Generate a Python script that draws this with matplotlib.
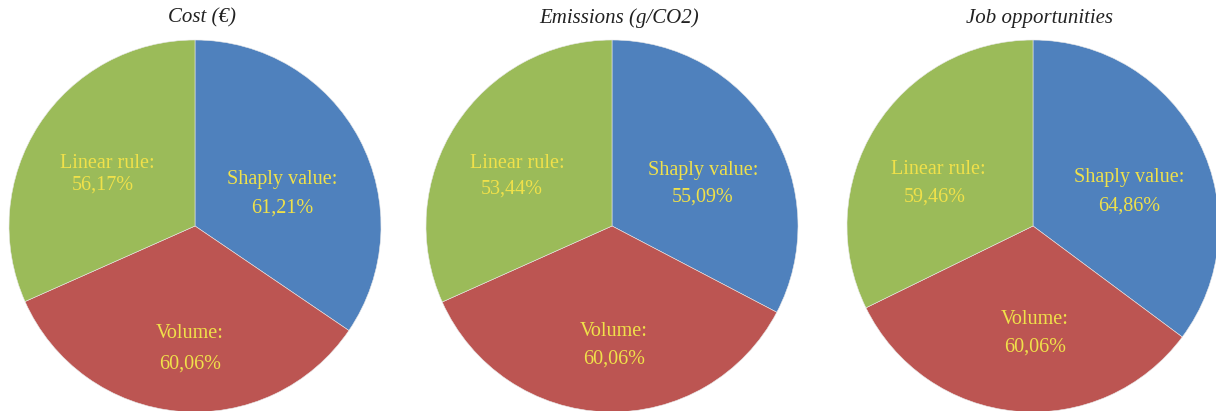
import matplotlib
matplotlib.use("Agg")
import matplotlib.pyplot as plt

W, H = 1216, 411
DPI = 100

titles = ["Cost (€)", "Emissions (g/CO2)", "Job opportunities"]
methods = ["Shaply value", "Volume", "Linear rule"]
shapley = [61.21, 55.09, 64.86]
volume = [60.06, 60.06, 60.06]
linear = [56.17, 53.44, 59.46]

colors = ["#4F81BD", "#BC5552", "#9BBB59"]
label_color = "#F0E14A"

# layout: pie centres in pixels, radius in pixels
centers = [(195, 226), (612, 226), (1033, 226)]
R = 186
# label offsets (px from pie centre) for (name line, value line) per wedge
label_pos = [
    [((87, -47), (87, -18)), ((-5, 107), (-5, 138)), ((-88, -63), (-92, -41))],
    [((91, -56), (91, -29)), ((2, 105), (2, 133)), ((-95, -63), (-100, -37))],
    [((96, -49), (96, -20)), ((2, 94), (2, 121)), ((-95, -57), (-98, -29))],
]

fig = plt.figure(figsize=(W / DPI, H / DPI), dpi=DPI)
fig.patch.set_facecolor("white")

for i, title in enumerate(titles):
    cx, cy = centers[i]
    ax = fig.add_axes([(cx - R) / W, (H - cy - R) / H, 2 * R / W, 2 * R / H])
    vals = [shapley[i], volume[i], linear[i]]
    ax.pie(vals, colors=colors, startangle=90, counterclock=False, radius=1,
           wedgeprops=dict(edgecolor="#e8e8e8", linewidth=0.4))
    ax.set_xlim(-1, 1)
    ax.set_ylim(-1, 1)
    ax.axis("off")
    for j, name in enumerate(methods):
        (nx, ny), (vx, vy) = label_pos[i][j]
        val = f"{vals[j]:.2f}".replace(".", ",") + "%"
        ax.text(nx / R, -ny / R, name + ":", ha="center", va="center",
                fontsize=14.5, family="Liberation Serif", color=label_color)
        ax.text(vx / R, -vy / R, val, ha="center", va="center",
                fontsize=14.5, family="Liberation Serif", color=label_color)
    # titles sit a little right of the pie centre
    fig.text((cx + 7) / W, 1 - 18 / H, title, ha="center", va="center",
             fontsize=15, family="Liberation Serif", style="italic", color="#222222")

fig.savefig("out.png", dpi=DPI)
